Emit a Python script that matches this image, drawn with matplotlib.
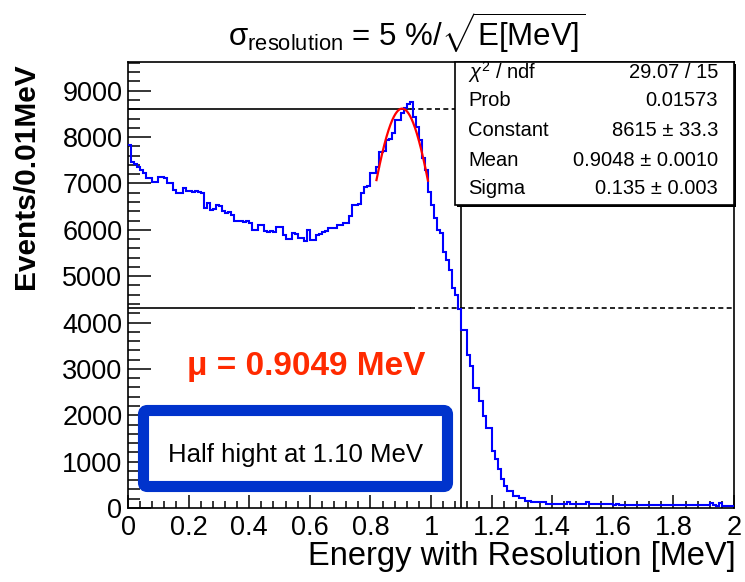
import numpy as np
import matplotlib
matplotlib.use('Agg')
import matplotlib.pyplot as plt
from matplotlib.patches import FancyBboxPatch, Rectangle
from matplotlib.ticker import MultipleLocator

plt.rcParams['font.family'] = ['Liberation Sans', 'DejaVu Sans']
plt.rcParams['mathtext.fontset'] = 'custom'
plt.rcParams['mathtext.rm'] = 'Liberation Sans'
plt.rcParams['mathtext.it'] = 'Liberation Sans:italic'
plt.rcParams['mathtext.bf'] = 'Liberation Sans:bold'

# --- data ---
BIN_WIDTH = 0.01
counts = [
    7830, 7470, 7430, 7360, 7300, 7220, 7110, 7110, 7040, 7040,
    7150, 7150, 7120, 7000, 7000, 6850, 6790, 6790, 6900, 6830,
    6830, 6820, 6830, 6820, 6800, 6470, 6580, 6430, 6450, 6540,
    6520, 6400, 6360, 6380, 6330, 6200, 6180, 6190, 6170, 6180,
    6150, 6000, 6000, 6110, 6100, 5970, 5960, 5970, 5950, 6070,
    6060, 5890, 5800, 5810, 5930, 5920, 5820, 5830, 5750, 6000,
    5790, 5780, 5890, 5900, 5960, 5970, 6030, 6040, 6030, 6100,
    6110, 6140, 6150, 6290, 6540, 6540, 6550, 6790, 6930, 6940,
    7220, 7230, 7360, 7680, 7700, 7940, 7950, 8080, 8370, 8360,
    8510, 8620, 8720, 8760, 8440, 8220, 7940, 7540, 7290, 6820,
    6540, 6250, 6000, 5930, 5530, 5350, 5140, 4750, 4600, 4300,
    3850, 3850, 3310, 3060, 2580, 2580, 2310, 1985, 1735, 1735,
    1230, 1050, 840, 620, 480, 370, 370, 265, 265, 210,
    210, 155, 155, 120, 120, 120, 120, 120, 86, 86,
    86, 86, 86, 86, 86, 140, 86, 86, 86, 86,
    86, 140, 80, 80, 78, 80, 78, 76, 78, 76,
    75, 76, 74, 75, 72, 74, 72, 70, 72, 70,
    68, 70, 66, 68, 65, 66, 64, 65, 62, 64,
    62, 60, 62, 60, 58, 60, 58, 56, 58, 56,
    55, 56, 110, 54, 52, 100, 52, 50, 52, 50,
]

# gaussian fit parameters (stats box)
fit_const = 8615
fit_mean = 0.9048
fit_sigma = 0.135
fit_range = (0.82, 0.99)

peak_x = 0.93      # where the solid guide lines stop
half_x = 1.10      # half height position
y_max = 9620

stats_names = [r'$\chi^2$ / ndf', 'Prob', 'Constant', 'Mean', 'Sigma']
stats_values = ['29.07 / 15', '0.01573', '8615 \u00b1 33.3',
                '0.9048 \u00b1 0.0010', '0.135 \u00b1 0.003']

W, H = 745, 582


def fx(px):
    return px / W


def fy(py):
    return 1 - py / H


fig = plt.figure(figsize=(W / 100, H / 100), dpi=100)
ax = fig.add_axes([fx(128), fy(508), (734 - 128) / W, (508 - 62) / H])

edges = np.arange(len(counts) + 1) * BIN_WIDTH
ax.stairs(counts, edges, color='#0000ff', lw=1.5, baseline=None, zorder=3)

# fit curve
xf = np.linspace(fit_range[0], fit_range[1], 200)
yf = fit_const * np.exp(-0.5 * ((xf - fit_mean) / fit_sigma) ** 2)
ax.plot(xf, yf, color='#ff0000', lw=1.6, zorder=4)

# guide lines
for yv in (fit_const, fit_const / 2):
    ax.plot([0, peak_x], [yv, yv], color='black', lw=1.2, zorder=2)
    ax.plot([peak_x, 2], [yv, yv], color='black', lw=1.2, ls=(0, (3, 2)), zorder=2)
ax.axvline(half_x, color='black', lw=1.2, zorder=2)

ax.set_xlim(0, 2)
ax.set_ylim(0, y_max)
ax.set_xticks(np.arange(0, 2.01, 0.2))
ax.set_xticklabels(['0', '0.2', '0.4', '0.6', '0.8', '1', '1.2', '1.4', '1.6', '1.8', '2'])
ax.set_yticks(np.arange(0, 9001, 1000))
ax.xaxis.set_minor_locator(MultipleLocator(0.04))
ax.yaxis.set_minor_locator(MultipleLocator(200))
ax.tick_params(axis='both', which='both', direction='in', width=1.1,
               labelsize=19.5, top=False, right=False)
ax.tick_params(axis='y', which='major', length=16.5, pad=4)
ax.tick_params(axis='y', which='minor', length=8.5)
ax.tick_params(axis='x', which='major', length=9.5, pad=5)
ax.tick_params(axis='x', which='minor', length=5)
for s in ax.spines.values():
    s.set_linewidth(1.2)

# stats box with a small shadow
ax.add_patch(Rectangle((0.543, 0.675), 0.46, 0.321, transform=ax.transAxes,
                       facecolor='black', edgecolor='none', zorder=5, clip_on=False))
ax.add_patch(Rectangle((0.54, 0.679), 0.46, 0.321, transform=ax.transAxes,
                       facecolor='white', edgecolor='black', lw=1.2, zorder=6,
                       clip_on=False))
row_y = [72, 100, 130, 160, 189]
for name, val, ry in zip(stats_names, stats_values, row_y):
    fig.text(fx(468), fy(ry), name, ha='left', va='center', fontsize=14.5, zorder=10)
    fig.text(fx(718), fy(ry), val, ha='right', va='center', fontsize=14.5, zorder=10)

# labels and title
fig.text(fx(407), fy(33),
         '\u03c3$_{\\mathrm{resolution}}$ = 5 %/$\\sqrt{\\mathrm{E[MeV]}}$',
         ha='center', va='center', fontsize=22.5)
fig.text(fx(736), fy(557), 'Energy with Resolution [MeV]',
         ha='right', va='center', fontsize=23.5)
fig.text(fx(26), fy(63), 'Events/0.01MeV', rotation=90, ha='center', va='top',
         fontsize=21.5, fontweight='bold')

fig.text(fx(306), fy(366), '\u03bc = 0.9049 MeV', ha='center', va='center',
         fontsize=24, fontweight='bold', color='#ff2a00')

# blue framed note
box = FancyBboxPatch((143.5 / 100, (H - 486.5) / 100), (447.5 - 143.5) / 100,
                     (486.5 - 410.5) / 100,
                     boxstyle='round,pad=0,rounding_size=0.04',
                     transform=fig.dpi_scale_trans, facecolor='white',
                     edgecolor='#0033cc', lw=8, zorder=7)
fig.patches.append(box)
fig.text(fx(295), fy(455), 'Half hight at 1.10 MeV', ha='center', va='center',
         fontsize=18.5, zorder=8)

fig.savefig('out.png', dpi=100)
